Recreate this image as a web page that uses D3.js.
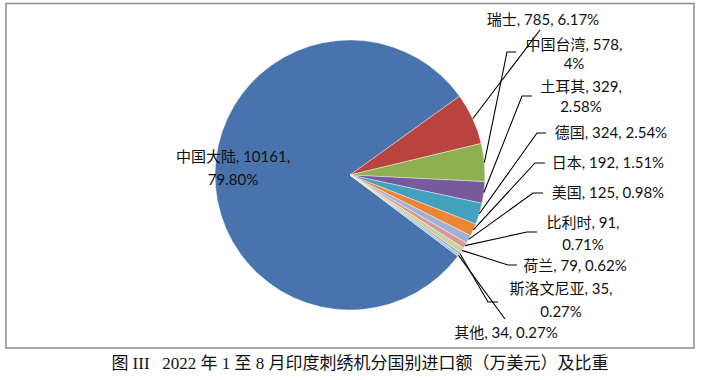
<!DOCTYPE html>
<html><head><meta charset="utf-8">
<script src="https://cdn.jsdelivr.net/npm/d3@7/dist/d3.min.js"></script>
<style>
html,body{margin:0;padding:0;background:#fff;}
svg{display:block;}
</style></head>
<body>
<svg id="chart" width="705" height="380"></svg>
<script>
// ---- data ----
const categories = ["中国大陆","瑞士","中国台湾","土耳其","德国","日本","美国","比利时","荷兰","斯洛文尼亚","其他"];
const values = [10161,785,578,329,324,192,125,91,79,35,34];
const percentLabels = ["79.80%","6.17%","4%","2.58%","2.54%","1.51%","0.98%","0.71%","0.62%","0.27%","0.27%"];
const caption = "图 III\u00A0\u00A0 2022 年 1 至 8 月印度刺绣机分国别进口额（万美元）及比重";

// ---- style / layout ----
const colors = ["#4873ad","#b8433f","#8fb050","#775a9b","#42a1bd","#ee8535","#9fb2d6","#d9999a","#c5d49b","#b2a4c9","#98c7d8"];
const labelLayout = [
  {split:true,  cx:233, y:157, gap:23, leader:null},
  {split:false, cx:543, y:20,  gap:0,  leader:[[540,30]]},
  {split:true,  cx:574, y:45,  gap:19, leader:[[507,52],[516,52]]},
  {split:true,  cx:581, y:87,  gap:20, leader:[[522,96],[532,96]]},
  {split:false, cx:611, y:133, gap:0,  leader:[[537,133],[546,133]]},
  {split:false, cx:608, y:163, gap:0,  leader:[[535,163],[545,163]]},
  {split:false, cx:608, y:193, gap:0,  leader:[[533,193],[543,193]]},
  {split:true,  cx:583, y:223, gap:22, leader:[[527,232],[537,232]]},
  {split:false, cx:575, y:266, gap:0,  leader:[[508,265],[517,265]]},
  {split:true,  cx:561, y:289, gap:23, leader:[[488,302],[498,302]]},
  {split:false, cx:506, y:333, gap:0,  leader:[[505,319]]}
];
const cx = 350, cy = 175, R = 135;
const startDeg = 127;

const svg = d3.select("#chart");
svg.append("rect").attr("x",6).attr("y",3.5).attr("width",688).attr("height",344.5)
  .attr("fill","#fff").attr("stroke","#8a8a8a").attr("stroke-width",1.5);

const data = categories.map((c,i)=>({name:c, value:values[i], pct:percentLabels[i], i}));
const pie = d3.pie().value(d=>d.value).sort(null)
  .startAngle(startDeg*Math.PI/180).endAngle(startDeg*Math.PI/180 + 2*Math.PI);
const arcs = pie(data);
const arc = d3.arc().innerRadius(0).outerRadius(R);

const g = svg.append("g").attr("transform",`translate(${cx},${cy})`);
g.selectAll("path.slice").data(arcs).enter().append("path")
  .attr("class","slice").attr("d",arc)
  .attr("fill",d=>colors[d.index])
  .attr("stroke","#ffffff").attr("stroke-width",0.4);

const lineGen = d3.line();
arcs.forEach(a=>{
  const L = labelLayout[a.index];
  if(!L.leader) return;
  const mid = (a.startAngle + a.endAngle)/2;
  const p0 = [cx + R*Math.sin(mid), cy - R*Math.cos(mid)];
  svg.append("path").attr("d", lineGen([p0, ...L.leader]))
    .attr("fill","none").attr("stroke","#000").attr("stroke-width",1.1);
});

const font = "Lato, 'Noto Sans CJK SC', sans-serif";
arcs.forEach(a=>{
  const d = a.data, L = labelLayout[a.index];
  const lines = L.split ? [`${d.name}, ${d.value},`, d.pct] : [`${d.name}, ${d.value}, ${d.pct}`];
  const t = svg.append("text").attr("text-anchor","middle")
    .attr("font-family",font).attr("font-size",15).attr("fill","#111");
  lines.forEach((s,k)=>{
    t.append("tspan").attr("x",L.cx).attr("y",L.y + k*L.gap).attr("dy","0.35em").text(s);
  });
});

svg.append("text").attr("x",360).attr("y",363).attr("dy","0.35em").attr("text-anchor","middle")
  .attr("font-family","'Liberation Serif', 'Noto Sans CJK SC', serif").attr("font-size",17)
  .attr("fill","#111").text(caption);
</script>
</body></html>
